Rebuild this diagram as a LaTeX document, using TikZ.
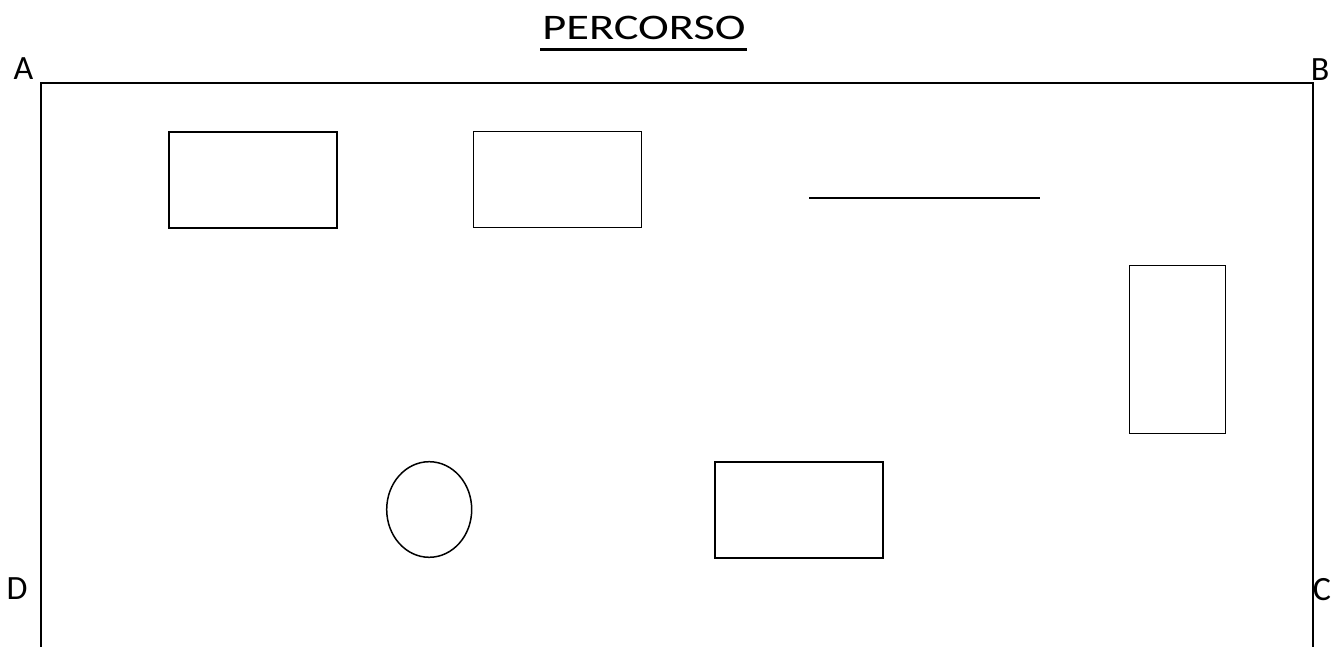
\documentclass[tikz,border=0pt]{standalone}
\usepackage{fontspec}
\setmainfont{Carlito}
\usetikzlibrary{shapes.geometric}
\begin{document}
\begin{tikzpicture}[x=1pt,y=-1pt,
  outl/.style={draw=black,line width=1.5pt,inner sep=0pt,outer sep=0pt},
  rbox/.style={outl,rectangle,minimum width=168pt,minimum height=96pt},
  corner/.style={anchor=base,inner sep=0pt,font=\fontsize{34}{40}\selectfont},
  frameline/.style={line width=1.5pt}]
\useasboundingbox (0,0) rectangle (1331,647);
% title
\node[anchor=base,inner sep=0pt,xscale=1.29,font=\fontsize{36}{42}\selectfont] (title) at (644,39.5) {PERCORSO};
\coordinate (ul1) at (540,49.5);
\coordinate (ul2) at (747,49.5);
\draw[line width=2.3pt] (ul1) -- (ul2);
% corner labels
\node[corner] (A) at (23.5,80) {A};
\node[corner] (B) at (1320,81) {B};
\node[corner] (D) at (17,599) {D};
\node[corner] (C) at (1322,600) {C};
% frame
\coordinate (fA) at (41,83);
\coordinate (fB) at (1313,83);
\coordinate (fD) at (41,648);
\coordinate (fC) at (1313,648);
\draw[frameline] (fD) -- (fA) -- (fB) -- (fC);
% shapes
\node[rbox] (r1) at (253,180.2) {};
\node[rbox] (r2) at (557.5,179.7) {};
\coordinate (l1) at (809,197.7);
\coordinate (l2) at (1040,197.7);
\draw[line width=2pt] (l1) -- (l2);
\node[outl,rectangle,minimum width=96.4pt,minimum height=167.6pt] (r4) at (1177.5,349.5) {};
\node[rbox] (r5) at (799,510) {};
\node[outl,ellipse,minimum width=85pt,minimum height=95.6pt] (e1) at (429.2,509.5) {};
\end{tikzpicture}
\end{document}
